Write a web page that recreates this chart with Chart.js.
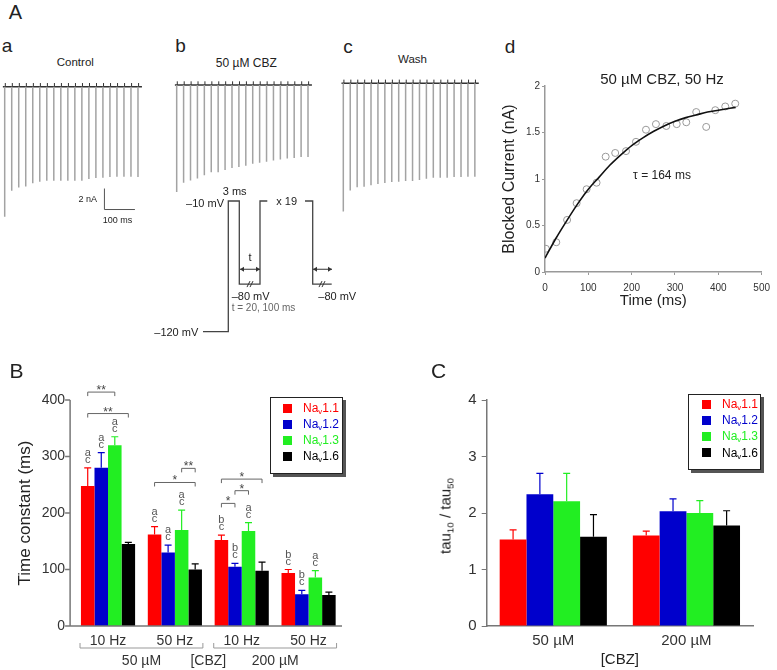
<!DOCTYPE html>
<html><head><meta charset="utf-8">
<script src="https://cdn.jsdelivr.net/npm/chart.js@4.4.1/dist/chart.umd.min.js"></script>
<style>
body{margin:0;background:#fff;}
#fig{position:relative;width:777px;height:670px;overflow:hidden;font-family:"Liberation Sans",Arial,sans-serif;color:#222;background:#fff;}
canvas{position:absolute;}
.t{position:absolute;white-space:nowrap;line-height:1;}
.t sub{font-size:0.65em;vertical-align:-0.3em;line-height:0;}
.lg{position:absolute;border:1px solid #222;background:#fff;box-shadow:3px 3px 0 #555;}
.lg .sq{position:absolute;width:9px;height:9px;}
</style></head><body><div id="fig"></div>
<script>
// ---------------- DATA ----------------
// A a-c: 20 test pulses, peak current amplitudes (nA)
const pulseTimes = [0,23,46,69,92,115,138,161,184,207,230,253,276,299,322,345,368,391,414,437];
const ampControl = [12.4,9.9,9.6,9.5,9.2,9.05,8.95,8.95,8.95,8.95,8.95,8.95,8.8,8.7,8.67,8.6,8.57,8.57,8.57,8.6];
const ampCBZ     = [10.2,9.3,9.1,8.9,8.6,8.3,8.3,8.1,7.9,7.8,7.7,7.5,7.4,7.3,7.2,7.1,7.0,6.95,6.85,6.85];
const ampWash    = [12.2,10.2,9.9,9.85,9.7,9.6,9.5,9.4,9.37,9.3,9.3,9.2,9.1,9.0,9.0,8.99,8.92,8.92,8.9,8.9];
const traceWindow = [-6, 450];       // ms, holding baseline
const artifactSize = 0.35;           // nA, small outward tail
const scaleBar = {time: 327, current: -11.7, dT: 100, dI: 2};

// Voltage protocol (schematic time units, mV)
const protoTime1 = [0, 25.3, 25.3, 36.3, 36.3, 57, 57, 64.3];
const protoVolt1 = [-120, -120, -10, -10, -80, -80, -10, -10];
const protoTime2 = [102, 109.7, 109.7, 128.7];
const protoVolt2 = [-10, -10, -80, -80];
const protoArrows = [[37, 57], [110, 129]];
const protoArrowLevel = -67.5;
const protoBreaks = [47, 119];

// A d: blocked current
const blockTime    = [2,26,51,73,96,119,140,162,187,210,233,256,280,304,326,349,372,393,416,439];
const blockCurrent = [0.25,0.32,0.56,0.74,0.89,0.96,1.24,1.28,1.30,1.40,1.53,1.59,1.57,1.59,1.61,1.72,1.56,1.74,1.78,1.81];
const fitTime    = [0,25,50,75,100,125,150,175,200,225,250,275,300,325,350,375,400,440];
const fitCurrent = [0.15,0.36,0.55,0.73,0.89,1.02,1.15,1.26,1.36,1.44,1.51,1.57,1.62,1.66,1.69,1.72,1.74,1.77];

// B: time constants (ms)
const freqLabelsB = ['10 Hz','50 Hz','10 Hz','50 Hz'];
const concLabelsB = ['50 \u00b5M','200 \u00b5M'];
const seriesNames = ['Nav1.1','Nav1.2','Nav1.3','Nav1.6'];
const tauNav11 = [248,162,152,94];
const tauNav12 = [280,130,105,56];
const tauNav13 = [320,170,168,86];
const tauNav16 = [145,100,98,55];
const semNav11 = [32,14,9,6];
const semNav12 = [27,13,6,7];
const semNav13 = [15,35,15,12];
const semNav16 = [3,10,15,5];
const lettersNav11 = ['ac','ac','bc','bc'];
const lettersNav12 = ['ac','ac','bc','bc'];
const lettersNav13 = ['ac','ac','ac','ac'];
const lettersNav16 = ['','','',''];
const sigGroup = [0,0,1,1,2,2,2];
const sigFrom  = [0,0,0,2,0,1,0];
const sigTo    = [2,3,3,3,3,2,1];
const sigLevel = [414,376,254,279,260,239.5,217];
const sigMark  = ['**','**','*','**','*','*','*'];

// C: tau10 / tau50
const concLabelsC = ['50 \u00b5M','200 \u00b5M'];
const ratioNav11 = [1.53,1.60];
const ratioNav12 = [2.33,2.03];
const ratioNav13 = [2.21,2.00];
const ratioNav16 = [1.58,1.78];
const ratioSem11 = [0.17,0.08];
const ratioSem12 = [0.37,0.22];
const ratioSem13 = [0.49,0.22];
const ratioSem16 = [0.39,0.26];

const COLORS = ['#ff0000','#0000cc','#22ee22','#000000'];

// ---------------- HELPERS ----------------
const FONT = '"Liberation Sans", Arial, sans-serif';
Chart.defaults.font.family = FONT;
Chart.defaults.color = '#333';
Chart.defaults.animation = false;
const fig = document.getElementById('fig');
function mkCanvas(left, top, w, h){
  const c = document.createElement('canvas');
  c.width = w; c.height = h;
  c.style.left = left+'px'; c.style.top = top+'px';
  c.style.width = w+'px'; c.style.height = h+'px';
  fig.appendChild(c); return c;
}
function txt(html, x, y, size, opt={}){
  const d = document.createElement('div');
  d.className = 't'; d.innerHTML = html; d.style.fontSize = size+'px';
  const a = opt.align || 'center';
  const tx = a==='center' ? '-50%' : a==='right' ? '-100%' : '0';
  d.style.left = x+'px'; d.style.top = y+'px';
  d.style.transform = `translate(${tx},-50%)` + (opt.rotate ? ` rotate(${opt.rotate}deg)` : '');
  if (opt.color) d.style.color = opt.color;
  if (opt.weight) d.style.fontWeight = opt.weight;
  fig.appendChild(d); return d;
}
const baseOpts = () => ({responsive:false, animation:false, events:[],
  plugins:{legend:{display:false}, tooltip:{enabled:false}}});

function drawErr(ctx, x, barTop, top, color){
  ctx.strokeStyle = color; ctx.lineWidth = 1.2;
  ctx.beginPath(); ctx.moveTo(x, barTop); ctx.lineTo(x, top);
  ctx.moveTo(x-3.5, top); ctx.lineTo(x+3.5, top); ctx.stroke();
}

// ---------------- TRACES a, b, c ----------------
function traceChart(canvas, amps, xr, yr, extra){
  const spikes = [], arts = [];
  pulseTimes.forEach((t,i)=>{
    spikes.push({x:t,y:0},{x:t,y:-amps[i]},{x:t,y:null});
    arts.push({x:t+2,y:0},{x:t+2,y:artifactSize},{x:t+2,y:null});
  });
  const o = baseOpts();
  o.layout = {padding:0};
  o.scales = {x:{type:'linear', display:false, min:xr[0], max:xr[1]},
              y:{type:'linear', display:false, min:yr[0], max:yr[1]}};
  return new Chart(canvas, {type:'line', data:{datasets:[
    {data:spikes, borderColor:'#a3a3a3', borderWidth:1.5, pointRadius:0, spanGaps:false},
    {data:[{x:traceWindow[0],y:0},{x:traceWindow[1],y:0}], borderColor:'#333', borderWidth:1.5, pointRadius:0},
    {data:arts, borderColor:'#333', borderWidth:1, pointRadius:0, spanGaps:false}
  ]}, options:o, plugins: extra ? [extra] : []});
}
const scaleBarPlugin = {id:'sb', afterDraw(chart){
  const {ctx, scales:{x,y}} = chart;
  const x0 = x.getPixelForValue(scaleBar.time), y0 = y.getPixelForValue(scaleBar.current);
  const x1 = x.getPixelForValue(scaleBar.time+scaleBar.dT), y1 = y.getPixelForValue(scaleBar.current+scaleBar.dI);
  ctx.save(); ctx.strokeStyle='#555'; ctx.lineWidth=1;
  ctx.beginPath(); ctx.moveTo(x0,y1); ctx.lineTo(x0,y0); ctx.lineTo(x1,y0); ctx.stroke(); ctx.restore();
}};
traceChart(mkCanvas(0,76,150,150), ampControl, [-15.4,476.4], [-13.27,1.02], scaleBarPlugin);
traceChart(mkCanvas(165,76,155,125), ampCBZ, [-38.9,476.9], [-11.05,0.857]);
traceChart(mkCanvas(335,76,150,150), ampWash, [-27.6,470.7], [-13.59,0.695]);

// ---------------- PROTOCOL ----------------
const protoPlugin = {id:'proto', afterDraw(chart){
  const {ctx, scales:{x,y}} = chart;
  ctx.save(); ctx.strokeStyle='#333'; ctx.fillStyle='#333'; ctx.lineWidth=1;
  const ay = y.getPixelForValue(protoArrowLevel);
  protoArrows.forEach(([a,b])=>{
    const xa = x.getPixelForValue(a), xb = x.getPixelForValue(b);
    ctx.beginPath(); ctx.moveTo(xa,ay); ctx.lineTo(xb,ay); ctx.stroke();
    ctx.beginPath(); ctx.moveTo(xa,ay); ctx.lineTo(xa+4,ay-2.5); ctx.lineTo(xa+4,ay+2.5); ctx.closePath(); ctx.fill();
    ctx.beginPath(); ctx.moveTo(xb,ay); ctx.lineTo(xb-4,ay-2.5); ctx.lineTo(xb-4,ay+2.5); ctx.closePath(); ctx.fill();
  });
  const by = y.getPixelForValue(-80);
  protoBreaks.forEach(t=>{
    const bx = x.getPixelForValue(t);
    ctx.beginPath();
    ctx.moveTo(bx-3,by+3); ctx.lineTo(bx,by-3);
    ctx.moveTo(bx,by+3); ctx.lineTo(bx+3,by-3); ctx.stroke();
  });
  ctx.restore();
}};
(function(){
  const o = baseOpts();
  o.layout = {padding:0};
  o.scales = {x:{type:'linear', display:false, min:-53, max:147},
              y:{type:'linear', display:false, min:-127.1, max:7.69}};
  new Chart(mkCanvas(150,180,200,160), {type:'scatter', data:{datasets:[
    {data:protoTime1.map((t,i)=>({x:t,y:protoVolt1[i]})), showLine:true, borderColor:'#444', borderWidth:1.3, pointRadius:0},
    {data:protoTime2.map((t,i)=>({x:t,y:protoVolt2[i]})), showLine:true, borderColor:'#444', borderWidth:1.3, pointRadius:0}
  ]}, options:o, plugins:[protoPlugin]});
})();

// ---------------- d ----------------
(function(){
  const o = baseOpts();
  o.layout = {padding:{top:16,right:11,left:0,bottom:0}};
  const axisCol = '#999';
  o.scales = {
    x:{type:'linear', min:0, max:500,
       ticks:{stepSize:100, font:{size:10}, padding:7, color:'#333', callback:v=>String(v)},
       grid:{drawOnChartArea:false, drawTicks:true, tickLength:3, color:axisCol},
       border:{color:axisCol, width:1.5},
       title:{display:true, text:'Time (ms)', font:{size:15}, color:'#222', padding:{top:0,bottom:10}},
       afterFit(s){ s.height = 48; }},
    y:{type:'linear', min:0, max:2,
       ticks:{stepSize:0.5, font:{size:10}, padding:2, color:'#333', callback:v=>String(v)},
       grid:{drawOnChartArea:false, drawTicks:true, tickLength:3, color:axisCol},
       border:{color:axisCol, width:1.5},
       title:{display:true, text:'Blocked Current (nA)', font:{size:16}, color:'#222', padding:{top:0,bottom:0}},
       afterFit(s){ s.width = 45; }}
  };
  new Chart(mkCanvas(500,70,277,250), {type:'scatter', data:{datasets:[
    {data:fitTime.map((t,i)=>({x:t,y:fitCurrent[i]})), showLine:true, borderColor:'#111', borderWidth:1.6,
     pointRadius:0, cubicInterpolationMode:'monotone'},
    {data:blockTime.map((t,i)=>({x:t,y:blockCurrent[i]})), pointRadius:3.5, pointBorderColor:'#999',
     pointBackgroundColor:'rgba(255,255,255,0)', pointBorderWidth:1}
  ]}, options:o});
})();

// ---------------- B ----------------
const semB = [semNav11, semNav12, semNav13, semNav16];
const lettersB = [lettersNav11, lettersNav12, lettersNav13, lettersNav16];
const pluginB = {id:'annB', afterDatasetsDraw(chart){
  const {ctx, chartArea:ca, scales:{x,y}} = chart;
  ctx.save();
  const ax = ca.left - 4.5, y0 = y.getPixelForValue(0);
  ctx.strokeStyle = '#777'; ctx.lineWidth = 1.5;
  ctx.beginPath(); ctx.moveTo(ax, y.getPixelForValue(y.max)); ctx.lineTo(ax, y0); ctx.lineTo(ca.right, y0);
  y.ticks.forEach(t=>{ const p = y.getPixelForValue(t.value); ctx.moveTo(ax-5,p); ctx.lineTo(ax,p); });
  ctx.stroke();
  chart.data.datasets.forEach((ds,di)=>{
    chart.getDatasetMeta(di).data.forEach((bar,i)=>{
      const top = y.getPixelForValue(ds.data[i] + semB[di][i]);
      drawErr(ctx, bar.x, bar.y, top, ds.backgroundColor);
      const L = lettersB[di][i];
      if (L){
        ctx.fillStyle = '#555'; ctx.font = '11px ' + FONT;
        ctx.textAlign = 'center'; ctx.textBaseline = 'alphabetic';
        ctx.fillText(L[1], bar.x, top-5); ctx.fillText(L[0], bar.x, top-12);
      }
    });
  });
  sigGroup.forEach((g,k)=>{
    const x1 = chart.getDatasetMeta(sigFrom[k]).data[g].x;
    const x2 = chart.getDatasetMeta(sigTo[k]).data[g].x;
    const p = y.getPixelForValue(sigLevel[k]);
    ctx.strokeStyle = '#666'; ctx.lineWidth = 1;
    ctx.beginPath(); ctx.moveTo(x1,p+4); ctx.lineTo(x1,p); ctx.lineTo(x2,p); ctx.lineTo(x2,p+4); ctx.stroke();
    ctx.fillStyle = '#444'; ctx.font = '12px ' + FONT; ctx.textAlign = 'center'; ctx.textBaseline = 'alphabetic';
    ctx.fillText(sigMark[k], (x1+x2)/2, p+2);
  });
  const by = ca.bottom + 22;
  ctx.strokeStyle = '#999'; ctx.lineWidth = 1;
  [[0,1],[2,3]].forEach(([a,b])=>{
    const xa = x.getPixelForValue(a) - 28, xb = x.getPixelForValue(b) + 28;
    ctx.beginPath(); ctx.moveTo(xa,by-5); ctx.lineTo(xa,by); ctx.lineTo(xb,by); ctx.lineTo(xb,by-5); ctx.stroke();
  });
  ctx.fillStyle = '#333'; ctx.font = '14px ' + FONT; ctx.textAlign = 'center'; ctx.textBaseline = 'middle';
  const ly = ca.bottom + 35;
  ctx.fillText(concLabelsB[0], (x.getPixelForValue(0)+x.getPixelForValue(1))/2, ly);
  ctx.fillText('[CBZ]', (x.getPixelForValue(1)+x.getPixelForValue(2))/2, ly);
  ctx.fillText(concLabelsB[1], (x.getPixelForValue(2)+x.getPixelForValue(3))/2, ly);
  ctx.restore();
}};
const chartB = (function(){
  const o = baseOpts();
  o.layout = {padding:{top:30,right:18,left:0,bottom:0}};
  o.datasets = {bar:{categoryPercentage:0.81, barPercentage:1}};
  o.scales = {
    x:{grid:{display:false, drawTicks:false}, border:{display:false},
       ticks:{font:{size:14}, padding:7, color:'#333'}, afterFit(s){ s.height = 44; }},
    y:{min:0, max:400, ticks:{stepSize:100, font:{size:14}, padding:9.6, color:'#333'},
       grid:{display:false, drawTicks:false}, border:{display:false},
       title:{display:true, text:'Time constant (ms)', font:{size:17}, color:'#222', padding:{top:15,bottom:0}},
       afterFit(s){ s.width = 74.6; }}
  };
  const vals = [tauNav11, tauNav12, tauNav13, tauNav16];
  return new Chart(mkCanvas(0,370,360,300), {type:'bar', data:{labels:freqLabelsB,
    datasets: vals.map((v,i)=>({label:seriesNames[i], data:v, backgroundColor:COLORS[i], borderWidth:0}))},
    options:o, plugins:[pluginB]});
})();

// ---------------- C ----------------
const semC = [ratioSem11, ratioSem12, ratioSem13, ratioSem16];
const pluginC = {id:'annC', afterDatasetsDraw(chart){
  const {ctx, scales:{y}} = chart;
  ctx.save();
  chart.data.datasets.forEach((ds,di)=>{
    chart.getDatasetMeta(di).data.forEach((bar,i)=>{
      drawErr(ctx, bar.x, bar.y, y.getPixelForValue(ds.data[i] + semC[di][i]), ds.backgroundColor);
    });
  });
  ctx.restore();
}};
const chartC = (function(){
  const o = baseOpts();
  o.layout = {padding:{top:20,right:24,left:0,bottom:0}};
  o.datasets = {bar:{categoryPercentage:0.805, barPercentage:1}};
  o.scales = {
    x:{grid:{display:false, drawTicks:false}, border:{color:'#777', width:1.5},
       ticks:{font:{size:15}, padding:6, color:'#333'},
       title:{display:true, text:'[CBZ]', font:{size:15}, color:'#222', padding:{top:0,bottom:1}},
       afterFit(s){ s.height = 44; }},
    y:{min:0, max:4, ticks:{stepSize:1, font:{size:15}, padding:5, color:'#333'},
       grid:{drawOnChartArea:false, drawTicks:true, tickLength:5, color:'#777'},
       border:{color:'#777', width:1.5}, afterFit(s){ s.width = 66.7; }}
  };
  const vals = [ratioNav11, ratioNav12, ratioNav13, ratioNav16];
  return new Chart(mkCanvas(420,380,357,290), {type:'bar', data:{labels:concLabelsC,
    datasets: vals.map((v,i)=>({label:seriesNames[i], data:v, backgroundColor:COLORS[i], borderWidth:0}))},
    options:o, plugins:[pluginC]});
})();

// ---------------- LEGENDS (from datasets) ----------------
function htmlLegend(chart, left, top, w, h, rowTops, sqLeft, txLeft, size){
  const box = document.createElement('div');
  box.className = 'lg';
  Object.assign(box.style, {left:left+'px', top:top+'px', width:w+'px', height:h+'px'});
  fig.appendChild(box);
  chart.data.datasets.forEach((ds,i)=>{
    const sq = document.createElement('div'); sq.className = 'sq';
    sq.style.left = sqLeft+'px'; sq.style.top = (rowTops[i]-4.5)+'px'; sq.style.background = ds.backgroundColor;
    box.appendChild(sq);
    const t = document.createElement('div'); t.className = 't';
    t.innerHTML = ds.label.replace(/^Nav/, 'Na<sub>v</sub>');
    Object.assign(t.style, {left:txLeft+'px', top:rowTops[i]+'px', fontSize:size+'px', color:ds.backgroundColor, transform:'translate(0,-50%)'});
    box.appendChild(t);
  });
}
htmlLegend(chartB, 270, 397, 71, 75, [10,26,42,58], 12, 32, 12);
htmlLegend(chartC, 688, 394, 71, 74, [9,25,41,57.7], 13, 33, 12);

// ---------------- TEXT ----------------
txt('A', 15.5, 11.5, 20);
txt('a', 7, 44.5, 19);
txt('b', 180.5, 45, 19);
txt('c', 348, 45.5, 19);
txt('d', 510, 45.5, 19);
txt('B', 16.5, 369.5, 21);
txt('C', 438.5, 369.5, 21);
txt('Control', 75.3, 63, 11.5);
txt('50 \u00b5M CBZ', 246.3, 63, 12);
txt('Wash', 412.5, 60, 11.5);
txt('2 nA', 97, 199, 9, {align:'right'});
txt('100 ms', 117.5, 220, 9);
txt('3 ms', 234.7, 191, 11);
txt('\u201310 mV', 224, 202.5, 11, {align:'right'});
txt('x 19', 286.7, 200.5, 11);
txt('t', 250, 256.7, 11);
txt('\u201380 mV', 231.7, 295.5, 11, {align:'left'});
txt('t = 20, 100 ms', 231.7, 308, 10, {align:'left', color:'#666'});
txt('\u201380 mV', 318.3, 295.5, 11, {align:'left'});
txt('\u2013120 mV', 198.3, 331.7, 11, {align:'right'});
txt('50 \u00b5M CBZ, 50 Hz', 662, 78, 15);
txt('\u03c4 = 164 ms', 662, 175, 12);
txt('tau<sub>10</sub> / tau<sub>50</sub>', 445, 516, 15, {rotate:-90});
</script></body></html>
